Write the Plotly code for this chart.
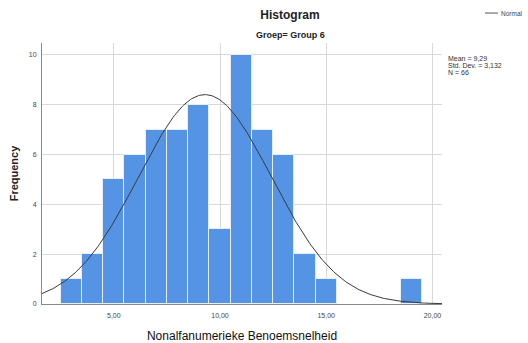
import numpy as np
import plotly.graph_objects as go

# ---- data ----
bin_centers = [3, 4, 5, 6, 7, 8, 9, 10, 11, 12, 13, 14, 15, 19]
counts = [1, 2, 5, 6, 7, 7, 8, 3, 10, 7, 6, 2, 1, 1]
mean_val = 9.29
sd_val = 3.132
n_val = 66
bin_width = 1.0
x_ticks = [5, 10, 15, 20]
x_ticklabels = ["5,00", "10,00", "15,00", "20,00"]
y_ticks = [0, 2, 4, 6, 8, 10]
stats_lines = ["Mean = 9,29", "Std. Dev. = 3,132", "N = 66"]

x_range = [1.62, 20.45]
y_range = [0, 10.48]

# normal curve from the reported statistics
xs = np.linspace(x_range[0], x_range[1], 300)
ys = n_val * bin_width / (sd_val * np.sqrt(2 * np.pi)) * np.exp(-0.5 * ((xs - mean_val) / sd_val) ** 2)

FONT = "Liberation Sans, Arial, sans-serif"

fig = go.Figure()
fig.add_trace(go.Bar(
    x=bin_centers, y=counts, width=bin_width,
    marker=dict(color="#5594E4", line=dict(color="#E6EEFA", width=1)),
    showlegend=False, hoverinfo="x+y",
))
fig.add_trace(go.Scatter(
    x=xs, y=ys, mode="lines", line=dict(color="#3a3a3a", width=1),
    name="Normal", showlegend=False,
))

fig.update_layout(
    width=528, height=343,
    margin=dict(l=42, r=86, t=43, b=39),
    paper_bgcolor="white", plot_bgcolor="white",
    font=dict(family=FONT, color="#222"),
    bargap=0,
    title=dict(text="<b>Histogram</b>", x=290 / 528, xanchor="center", xref="container",
               y=1 - 15 / 343, yanchor="middle", yref="container",
               font=dict(size=12, color="#222", family=FONT)),
    xaxis=dict(range=x_range, tickvals=x_ticks, ticktext=x_ticklabels,
               showgrid=True, gridcolor="#D9D9D9", gridwidth=1,
               showline=True, linecolor="#8a8a8a", linewidth=1,
               zeroline=False, ticks="", tickfont=dict(size=7, color="#444"),
               ticklabelstandoff=5, automargin=False,
               title=dict(text="Nonalfanumerieke Benoemsnelheid",
                          font=dict(size=12, color="#111"), standoff=14)),
    yaxis=dict(range=y_range, tickvals=y_ticks,
               showgrid=True, gridcolor="#D9D9D9", gridwidth=1,
               showline=True, linecolor="#8a8a8a", linewidth=1,
               zeroline=False, ticks="", tickfont=dict(size=7, color="#444"),
               ticklabelstandoff=3, automargin=False,
               title=dict(text="<b>Frequency</b>", font=dict(size=11, color="#222"), standoff=7)),
)

# subtitle
fig.add_annotation(text="<b>Groep= Group 6</b>", xref="paper", yref="paper",
                   x=(290 - 42) / 400, y=(304.3 - 35) / 261.3, xanchor="center", yanchor="middle",
                   showarrow=False, font=dict(size=9, color="#222", family=FONT))

# statistics box
for i, line in enumerate(stats_lines):
    fig.add_annotation(text=line, xref="paper", yref="paper",
                       x=(446 - 42) / 400, y=(304.3 - (59 + 6.6 * i)) / 261.3,
                       xanchor="left", yanchor="middle", showarrow=False,
                       font=dict(size=7, color="#333", family=FONT))

# legend
fig.add_shape(type="line", xref="paper", yref="paper",
              x0=(485 - 42) / 400, x1=(498 - 42) / 400,
              y0=(304.3 - 13) / 261.3, y1=(304.3 - 13) / 261.3,
              line=dict(color="#555", width=1))
fig.add_annotation(text="Normal", xref="paper", yref="paper",
                   x=(499 - 42) / 400, y=(304.3 - 13) / 261.3,
                   xanchor="left", yanchor="middle", showarrow=False,
                   font=dict(size=6.5, color="#444", family=FONT))

fig.write_html("out.html")
